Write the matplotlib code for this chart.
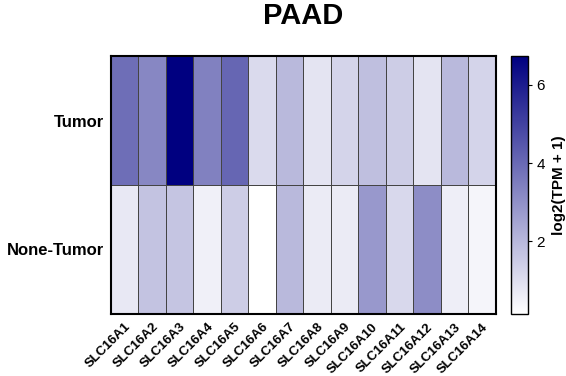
import matplotlib
matplotlib.use("Agg")
import matplotlib.pyplot as plt
import numpy as np
from matplotlib.colors import LinearSegmentedColormap

plt.rcParams["font.family"] = ["Liberation Sans", "DejaVu Sans"]

genes = ["SLC16A1", "SLC16A2", "SLC16A3", "SLC16A4", "SLC16A5", "SLC16A6", "SLC16A7",
         "SLC16A8", "SLC16A9", "SLC16A10", "SLC16A11", "SLC16A12", "SLC16A13", "SLC16A14"]
groups = ["Tumor", "None-Tumor"]

tumor = [3.9, 3.25, 6.74, 3.4, 4.1, 1.1, 1.95, 0.84, 1.25, 1.8, 1.45, 0.84, 1.95, 1.25]
normal = [0.74, 1.7, 1.65, 0.53, 1.45, 0.14, 1.95, 0.66, 0.66, 2.8, 1.17, 3.1, 0.58, 0.4]

data = np.array([tumor, normal])

cmap = LinearSegmentedColormap.from_list("wn", ["#ffffff", "#000080"])

fig = plt.figure(figsize=(5.66, 3.76), dpi=100)
ax = fig.add_axes([0.196, 0.165, 0.680, 0.686])
mesh = ax.pcolormesh(data, cmap=cmap, vmin=data.min(), vmax=data.max(),
                     edgecolors="#444444", linewidth=0.5)
ax.set_xlim(0, len(genes))
ax.set_ylim(len(groups), 0)
ax.set_xticks(np.arange(len(genes)) + 0.5)
ax.set_xticklabels(genes, rotation=45, ha="right", rotation_mode="anchor",
                   fontsize=9.5, fontweight="bold")
ax.set_yticks(np.arange(len(groups)) + 0.5)
ax.set_yticklabels(groups, fontsize=12, fontweight="bold")
ax.tick_params(length=0, pad=5)
for s in ax.spines.values():
    s.set_linewidth(1.5)
    s.set_color("black")
ax.set_title("PAAD", fontsize=21, fontweight="bold", pad=23)

cax = fig.add_axes([0.903, 0.165, 0.029, 0.686])
cb = fig.colorbar(mesh, cax=cax, ticks=[2, 4, 6])
cb.ax.tick_params(labelsize=11, length=3)
cb.outline.set_linewidth(1)
cb.set_label("log2(TPM + 1)", fontsize=11, fontweight="bold", labelpad=5)

fig.savefig("out.png", dpi=100)
